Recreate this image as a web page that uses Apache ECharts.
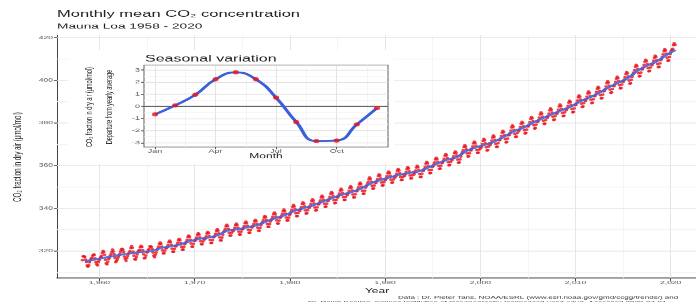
<!DOCTYPE html>
<html>
<head>
<meta charset="utf-8">
<script src="https://cdn.jsdelivr.net/npm/echarts@6/dist/echarts.min.js"></script>
<style>
  html, body { margin: 0; padding: 0; background: #fff; overflow: hidden; }
  /* the reference is a vertically squashed export, so draw tall and squash it */
  #chart { width: 696px; height: 540px; transform: scaleY(0.559259); transform-origin: 0 0; }
</style>
</head>
<body>
<div id="chart"></div>
<script>
// ---- data ----
const startYear = 1958;
// monthly mean CO2 (ppm), one row per year, Jan..Dec
const co2Monthly = [
  [null, null, 315.7, 317.5, 317.5, 317.2, 315.9, 314.9, 313.2, 312.7, 313.3, 314.7],
  [315.6, 316.4, 316.7, 317.7, 318.3, 318.2, 316.5, 314.8, 313.8, 313.3, 314.8, 315.6],
  [316.4, 317.0, 317.6, 319.0, 320.0, 319.6, 318.2, 315.9, 314.2, 313.8, 315.0, 316.2],
  [316.9, 317.7, 318.5, 319.5, 320.6, 319.8, 318.6, 316.8, 314.8, 315.4, 316.1, 317.0],
  [317.9, 318.6, 319.7, 320.6, 321.0, 320.6, 319.6, 317.4, 316.3, 315.4, 316.7, 317.7],
  [318.7, 319.1, 319.9, 321.4, 322.3, 321.5, 319.7, 317.8, 316.2, 316.0, 317.1, 318.4],
  [319.6, 320.1, 320.5, 321.8, 322.4, 321.8, 320.4, 318.5, 316.6, 316.8, 317.9, 319.4],
  [319.4, 320.4, 320.9, 322.1, 322.2, 321.9, 320.9, 319.3, 317.8, 317.1, 318.3, 319.3],
  [320.5, 321.1, 322.0, 323.3, 324.0, 323.4, 322.1, 320.3, 318.9, 318.9, 320.2, 321.5],
  [321.3, 321.9, 322.8, 324.1, 324.8, 324.2, 322.9, 321.1, 319.7, 319.7, 321.0, 322.3],
  [322.2, 322.8, 323.7, 325.0, 325.7, 325.1, 323.8, 322.0, 320.6, 320.6, 321.9, 323.2],
  [323.7, 324.3, 325.2, 326.5, 327.2, 326.6, 325.3, 323.5, 322.1, 322.1, 323.4, 324.7],
  [324.8, 325.4, 326.3, 327.6, 328.3, 327.7, 326.4, 324.6, 323.2, 323.2, 324.5, 325.8],
  [325.4, 326.0, 326.9, 328.2, 328.9, 328.3, 327.0, 325.2, 323.8, 323.8, 325.1, 326.4],
  [326.6, 327.2, 328.1, 329.4, 330.1, 329.5, 328.2, 326.4, 325.0, 325.0, 326.3, 327.6],
  [328.8, 329.4, 330.3, 331.6, 332.3, 331.7, 330.4, 328.6, 327.2, 327.2, 328.5, 329.8],
  [329.3, 329.9, 330.8, 332.1, 332.8, 332.2, 330.9, 329.1, 327.7, 327.7, 329.0, 330.3],
  [330.2, 330.8, 331.7, 333.0, 333.7, 333.1, 331.8, 330.0, 328.6, 328.6, 329.9, 331.2],
  [331.1, 331.7, 332.6, 333.9, 334.6, 334.0, 332.7, 330.9, 329.5, 329.5, 330.8, 332.1],
  [332.9, 333.5, 334.4, 335.7, 336.4, 335.8, 334.5, 332.7, 331.3, 331.3, 332.6, 333.9],
  [334.5, 335.1, 336.0, 337.3, 338.0, 337.4, 336.1, 334.3, 332.9, 332.9, 334.2, 335.5],
  [335.9, 336.5, 337.4, 338.7, 339.4, 338.8, 337.5, 335.7, 334.3, 334.3, 335.6, 336.9],
  [337.5, 338.3, 339.3, 340.7, 341.5, 340.9, 339.6, 337.7, 336.3, 336.4, 337.8, 339.2],
  [338.8, 339.6, 340.6, 342.0, 342.8, 342.2, 340.9, 339.0, 337.6, 337.7, 339.1, 340.5],
  [340.2, 341.0, 342.0, 343.4, 344.2, 343.6, 342.3, 340.4, 339.0, 339.1, 340.5, 341.9],
  [341.9, 342.7, 343.7, 345.1, 345.9, 345.3, 344.0, 342.1, 340.7, 340.8, 342.2, 343.6],
  [343.6, 344.4, 345.4, 346.8, 347.6, 347.0, 345.7, 343.8, 342.4, 342.5, 343.9, 345.3],
  [345.1, 345.9, 346.9, 348.3, 349.1, 348.5, 347.2, 345.3, 343.9, 344.0, 345.4, 346.8],
  [346.3, 347.1, 348.1, 349.5, 350.3, 349.7, 348.4, 346.5, 345.1, 345.2, 346.6, 348.0],
  [348.0, 348.8, 349.8, 351.2, 352.0, 351.4, 350.1, 348.2, 346.8, 346.9, 348.3, 349.7],
  [350.4, 351.2, 352.2, 353.6, 354.4, 353.8, 352.5, 350.6, 349.2, 349.3, 350.7, 352.1],
  [351.9, 352.7, 353.7, 355.1, 355.9, 355.3, 354.0, 352.1, 350.7, 350.8, 352.2, 353.6],
  [353.2, 354.0, 355.0, 356.4, 357.2, 356.6, 355.3, 353.4, 352.0, 352.1, 353.5, 354.9],
  [354.4, 355.2, 356.2, 357.6, 358.4, 357.8, 356.5, 354.6, 353.2, 353.3, 354.7, 356.1],
  [355.2, 356.0, 357.0, 358.4, 359.2, 358.6, 357.3, 355.4, 354.0, 354.1, 355.5, 356.9],
  [355.9, 356.7, 357.7, 359.1, 359.9, 359.3, 358.0, 356.1, 354.7, 354.8, 356.2, 357.6],
  [357.7, 358.5, 359.5, 360.9, 361.7, 361.1, 359.8, 357.9, 356.5, 356.6, 358.0, 359.4],
  [359.7, 360.5, 361.5, 362.9, 363.7, 363.1, 361.8, 359.9, 358.5, 358.6, 360.0, 361.4],
  [361.4, 362.2, 363.2, 364.6, 365.4, 364.8, 363.5, 361.6, 360.2, 360.3, 361.7, 363.1],
  [362.6, 363.4, 364.4, 365.8, 366.6, 366.0, 364.7, 362.8, 361.4, 361.5, 362.9, 364.3],
  [365.5, 366.3, 367.3, 368.7, 369.5, 368.9, 367.6, 365.7, 364.3, 364.4, 365.8, 367.2],
  [367.2, 368.0, 369.0, 370.4, 371.2, 370.6, 369.3, 367.4, 366.0, 366.1, 367.5, 368.9],
  [368.1, 368.9, 370.1, 371.6, 372.5, 371.9, 370.5, 368.6, 367.1, 367.3, 368.9, 370.4],
  [369.7, 370.5, 371.7, 373.2, 374.1, 373.5, 372.1, 370.2, 368.7, 368.9, 370.5, 372.0],
  [371.9, 372.7, 373.9, 375.4, 376.3, 375.7, 374.3, 372.4, 370.9, 371.1, 372.7, 374.2],
  [374.4, 375.2, 376.4, 377.9, 378.8, 378.2, 376.8, 374.9, 373.4, 373.6, 375.2, 376.7],
  [376.1, 376.9, 378.1, 379.6, 380.5, 379.9, 378.5, 376.6, 375.1, 375.3, 376.9, 378.4],
  [378.4, 379.2, 380.4, 381.9, 382.8, 382.2, 380.8, 378.9, 377.4, 377.6, 379.2, 380.7],
  [380.5, 381.3, 382.5, 384.0, 384.9, 384.3, 382.9, 381.0, 379.5, 379.7, 381.3, 382.8],
  [382.4, 383.2, 384.4, 385.9, 386.8, 386.2, 384.8, 382.9, 381.4, 381.6, 383.2, 384.7],
  [384.2, 385.0, 386.2, 387.7, 388.6, 388.0, 386.6, 384.7, 383.2, 383.4, 385.0, 386.5],
  [386.0, 386.8, 388.0, 389.5, 390.4, 389.8, 388.4, 386.5, 385.0, 385.2, 386.8, 388.3],
  [388.5, 389.3, 390.5, 392.0, 392.9, 392.3, 390.9, 389.0, 387.5, 387.7, 389.3, 390.8],
  [390.3, 391.1, 392.3, 393.8, 394.7, 394.1, 392.7, 390.8, 389.3, 389.5, 391.1, 392.6],
  [392.5, 393.3, 394.5, 396.0, 396.9, 396.3, 394.9, 393.0, 391.5, 391.7, 393.3, 394.8],
  [395.1, 395.9, 397.1, 398.6, 399.5, 398.9, 397.5, 395.6, 394.1, 394.3, 395.9, 397.4],
  [397.2, 398.0, 399.2, 400.7, 401.6, 401.0, 399.6, 397.7, 396.2, 396.4, 398.0, 399.5],
  [399.4, 400.2, 401.4, 402.9, 403.8, 403.2, 401.8, 399.9, 398.4, 398.6, 400.2, 401.7],
  [402.8, 403.6, 404.8, 406.3, 407.2, 406.6, 405.2, 403.3, 401.8, 402.0, 403.6, 405.1],
  [405.2, 406.0, 407.2, 408.7, 409.6, 409.0, 407.6, 405.7, 404.2, 404.4, 406.0, 407.5],
  [407.1, 407.9, 409.1, 410.6, 411.5, 410.9, 409.5, 407.6, 406.1, 406.3, 407.9, 409.4],
  [410.1, 410.9, 412.1, 413.6, 414.5, 413.9, 412.5, 410.6, 409.1, 409.3, 410.9, 412.4],
  [413.6, 414.3, 414.7, 416.5, 417.3, 416.6]
];
// de-seasonalised yearly level (blue line)
const co2Trend = [
  315.3, 316.0, 316.9, 317.6, 318.5, 319.0, 319.6, 320.0, 321.4, 322.2,
  323.1, 324.6, 325.7, 326.3, 327.5, 329.7, 330.2, 331.1, 332.0, 333.8,
  335.4, 336.8, 338.8, 340.1, 341.5, 343.2, 344.9, 346.4, 347.6, 349.3,
  351.7, 353.2, 354.5, 355.7, 356.5, 357.2, 359.0, 361.0, 362.7, 363.9,
  366.8, 368.5, 369.7, 371.3, 373.5, 376.0, 377.7, 380.0, 382.1, 384.0,
  385.8, 387.6, 390.1, 391.9, 394.1, 396.7, 398.8, 401.0, 404.4, 406.8,
  408.7, 411.7, 414.2
];
// inset: departure from yearly average, Jan..Dec
const seasonalDeparture = [-0.66, 0.08, 0.96, 2.23, 2.81, 2.23, 0.72, -1.29, -2.86, -2.81, -1.49, -0.14];

const yearTicks = [1960, 1970, 1980, 1990, 2000, 2010, 2020];
const yearMinor = [1965, 1975, 1985, 1995, 2005, 2015];
const co2Ticks = [320, 340, 360, 380, 400, 420];
const co2Minor = [310, 330, 350, 370, 390, 410];
const monthTicks = [1, 4, 7, 10];
const monthTickLabels = ['Jan', 'Apr', 'Jul', 'Oct'];
const monthMinor = [2.5, 5.5, 8.5, 11.5];
const departureTicks = [-3, -2, -1, 0, 1, 2, 3];
const departureMinor = [-2.5, -1.5, -0.5, 0.5, 1.5, 2.5];

// ---- build ----
const K = 302 / 540;            // vertical squash
const Y = v => v / K;           // reference px -> chart px
const FONT = '"Liberation Sans", Arial, sans-serif';

const monthlyPoints = [];
co2Monthly.forEach((row, i) => {
  row.forEach((v, m) => {
    if (v != null) monthlyPoints.push([startYear + i + (m + 0.5) / 12, v]);
  });
});
const trendPoints = co2Trend.map((v, i) => [startYear + i + 0.5, v]);
const seasonalPoints = seasonalDeparture.map((v, i) => [i + 1, v]);

function gridLines(axis, vals, color, width) {
  return vals.map(v => ({ [axis]: v, lineStyle: { color: color, width: width, type: 'solid' } }));
}
function lineSeries(xi, z, data) {
  return {
    type: 'scatter', xAxisIndex: xi, yAxisIndex: xi, data: [], z: z, silent: true,
    markLine: { z: z, silent: true, symbol: ['none', 'none'], label: { show: false }, animation: false, data: data }
  };
}
function txt(text, x, y, size, extra) {
  return Object.assign({
    type: 'text', x: x, y: y, z: 30,
    style: Object.assign({ text: text, fontSize: size, fontFamily: FONT, fill: '#222',
      textAlign: 'left', textVerticalAlign: 'middle' }, (extra && extra.style) || {})
  }, extra && extra.rotation ? { rotation: extra.rotation } : {});
}
const up = Math.PI / 2;

const chart = echarts.init(document.getElementById('chart'));
chart.setOption({
  animation: false,
  backgroundColor: '#fff',
  grid: [
    { left: 57, right: 0, top: Y(35), bottom: Y(24) },
    { left: 144, top: Y(65), width: 244, height: Y(82), show: true, backgroundColor: '#fff',
      borderColor: '#777', borderWidth: 1.2, z: 10 }
  ],
  xAxis: [
    {
      gridIndex: 0, type: 'value', min: 1955.54, max: 2022.66,
      axisLine: { show: true, onZero: false, lineStyle: { color: '#444', width: 1.6 } },
      axisTick: { show: true, customValues: yearTicks, length: 5, lineStyle: { color: '#444' } },
      axisLabel: { customValues: yearTicks, fontSize: 8.5, fontFamily: FONT, color: '#555', margin: 4 },
      splitLine: { show: false }
    },
    {
      gridIndex: 1, type: 'value', min: 0.455, max: 12.545, z: 12,
      axisLine: { show: false, onZero: false },
      axisTick: { show: true, customValues: monthTicks, length: 4, lineStyle: { color: '#555' } },
      axisLabel: { customValues: monthTicks, formatter: v => monthTickLabels[monthTicks.indexOf(v)],
        fontSize: 9, fontFamily: FONT, color: '#555', margin: 3 },
      splitLine: { show: false }
    }
  ],
  yAxis: [
    {
      gridIndex: 0, type: 'value', min: 307.35, max: 421.2,
      axisLine: { show: true, onZero: false, lineStyle: { color: '#444', width: 1 } },
      axisTick: { show: true, customValues: co2Ticks, length: 3, lineStyle: { color: '#444', width: 1.6 } },
      axisLabel: { customValues: co2Ticks, fontSize: 8.5, fontFamily: FONT, color: '#555', margin: 4 },
      splitLine: { show: false }
    },
    {
      gridIndex: 1, type: 'value', min: -3.35, max: 3.41, z: 12,
      axisLine: { show: false, onZero: false },
      axisTick: { show: true, customValues: departureTicks, length: 3, lineStyle: { color: '#555', width: 1.6 } },
      axisLabel: { customValues: departureTicks, fontSize: 9, fontFamily: FONT, color: '#555', margin: 4 },
      splitLine: { show: false }
    }
  ],
  graphic: [
    // white box behind the inset plot
    { type: 'rect', z: 5, shape: { x: 68, y: Y(50), width: 326, height: Y(114) }, style: { fill: '#fff' } },
    txt('Monthly mean CO₂ concentration', 57, Y(14.5), 16.5),
    txt('Mauna Loa 1958 - 2020', 57, Y(26.2), 13.7),
    txt('CO₂ fraction in dry air (μmol/mol)', 18, Y(157), 11, { rotation: up, style: { textAlign: 'center' } }),
    txt('Year', 377, Y(291), 12, { style: { textAlign: 'center' } }),
    txt('Seasonal variation', 145, Y(59), 16),
    txt('Month', 266, Y(156.5), 12, { style: { textAlign: 'center' } }),
    txt('CO₂ fraction in dry air (μmol/mol)', 89, Y(107), 9.8, { rotation: up, style: { textAlign: 'center' } }),
    txt('Departure from yearly average', 109, Y(107), 9.8, { rotation: up, style: { textAlign: 'center' } }),
    txt('Data : Dr. Pieter Tans, NOAA/ESRL (www.esrl.noaa.gov/gmd/ccgg/trends/) and', 398, Y(297.5), 8, { style: { fill: '#333' } }),
    txt('Dr. Ralph Keeling, Scripps Institution of Oceanography (scrippsco2.ucsd.edu/). Accessed 2020-07-01', 308, Y(302.5), 8, { style: { fill: '#333' } })
  ],
  series: [
    lineSeries(0, 1, [].concat(
      gridLines('xAxis', yearMinor, '#f3f3f3', 0.8),
      gridLines('yAxis', co2Minor, '#f3f3f3', 1.4),
      gridLines('xAxis', yearTicks, '#e6e6e6', 1),
      gridLines('yAxis', co2Ticks, '#e6e6e6', 1.6)
    )),
    {
      name: 'monthly', type: 'scatter', xAxisIndex: 0, yAxisIndex: 0, z: 2,
      symbol: 'circle', symbolSize: [3.6, 4.8],
      itemStyle: { color: '#e8141e' },
      data: monthlyPoints
    },
    {
      name: 'trend', type: 'line', xAxisIndex: 0, yAxisIndex: 0, z: 3,
      smooth: 0.3, showSymbol: false,
      lineStyle: { color: '#4466dd', width: 3.4, opacity: 0.9 },
      data: trendPoints
    },
    lineSeries(1, 11, [].concat(
      gridLines('xAxis', monthMinor, '#f3f3f3', 0.8),
      gridLines('yAxis', departureMinor, '#f3f3f3', 1.2),
      gridLines('xAxis', monthTicks, '#e3e3e3', 1),
      gridLines('yAxis', departureTicks, '#e3e3e3', 1.4),
      gridLines('yAxis', [0], '#666', 1.8)
    )),
    {
      name: 'seasonal', type: 'line', xAxisIndex: 1, yAxisIndex: 1, z: 12,
      smooth: 0.5, showSymbol: false,
      lineStyle: { color: '#3a5fd8', width: 3.6 },
      data: seasonalPoints
    },
    {
      name: 'seasonal dots', type: 'scatter', xAxisIndex: 1, yAxisIndex: 1, z: 13,
      symbol: 'circle', symbolSize: [6, 7.5],
      itemStyle: { color: '#e8141e' },
      data: seasonalPoints
    }
  ]
});
</script>
</body>
</html>
